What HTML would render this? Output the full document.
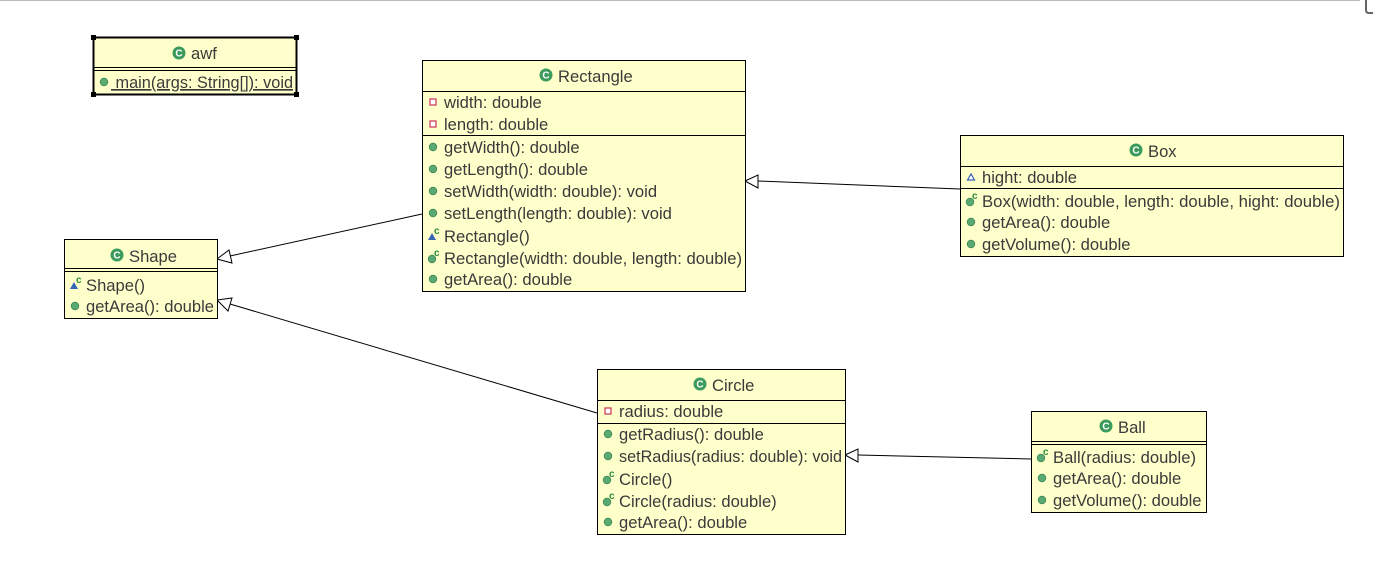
<!DOCTYPE html>
<html><head><meta charset="utf-8"><style>
html,body{margin:0;padding:0;background:#fff;}
svg{display:block;}
text{font-family:"Liberation Sans","DejaVu Sans",sans-serif;font-size:16.6px;fill:#3a3a3a;}
</style></head><body>
<svg width="1373" height="565" viewBox="0 0 1373 565" xmlns="http://www.w3.org/2000/svg">
<defs>
<g id="cls"><circle cx="0" cy="0" r="6.5" fill="#3c9a5c"/><text x="0" y="3.5" text-anchor="middle" style="font-size:10px;font-weight:bold;fill:#fff">C</text></g>
<g id="pub"><circle cx="0" cy="0" r="3.8" fill="#5aa872" stroke="#3f8a57" stroke-width="0.8"/></g>
<g id="priv"><rect x="-3" y="-3" width="6" height="6" fill="#fff" stroke="#d04060" stroke-width="1.3"/></g>
<g id="pkg"><path d="M-3.5 3 L0 -3 L3.5 3 Z" fill="#fff" stroke="#3060b0" stroke-width="1.2"/></g>
<g id="pkgc"><path d="M-5 4 L-1 -3 L3 4 Z" fill="#3566b5"/><text x="1" y="-2" style="font-size:10px;font-weight:bold;fill:#2b8a3e">c</text></g>
<g id="pubc"><circle cx="-1" cy="1" r="3.8" fill="#5aa872" stroke="#3f8a57" stroke-width="0.8"/><text x="1" y="-2" style="font-size:10px;font-weight:bold;fill:#2b8a3e">c</text></g>
</defs>
<line x1="0" y1="0.5" x2="1360" y2="0.5" stroke="#bbb"/>
<path d="M1366 0 L1366 10 Q1366 13 1369 13 L1373 13" fill="none" stroke="#666" stroke-width="2"/>

<g stroke="#000" stroke-width="1" fill="#fff">
<line x1="422" y1="214" x2="230" y2="256"/>
<path d="M217 259 L229 250 L232 263 Z"/>
<line x1="597" y1="413" x2="230" y2="304"/>
<path d="M217 300 L232 298 L228 311 Z"/>
<line x1="960" y1="189" x2="758" y2="181"/>
<path d="M745 181 L758 175 L758 188 Z"/>
<line x1="1031" y1="459" x2="858" y2="455"/>
<path d="M845 455 L858 449 L858 462 Z"/>
</g>

<rect x="93.5" y="37.5" width="203" height="57" fill="#ffffcc" stroke="#000" stroke-width="2"/>
<g fill="#000"><rect x="91" y="35" width="5" height="5"/><rect x="294" y="35" width="5" height="5"/><rect x="91" y="92" width="5" height="5"/><rect x="294" y="92" width="5" height="5"/></g>
<line x1="93" y1="67.5" x2="297" y2="67.5" stroke="#000"/>
<line x1="93" y1="70.5" x2="297" y2="70.5" stroke="#000"/>
<use href="#cls" x="179" y="53"/><text x="191" y="59">awf</text>
<use href="#pub" x="104" y="82"/><text x="111" y="88" text-decoration="underline" xml:space="preserve" textLength="182" lengthAdjust="spacingAndGlyphs"> main(args: String[]): void</text>

<rect x="422.5" y="60.5" width="323" height="231" fill="#ffffcc" stroke="#000"/>
<line x1="422" y1="91.5" x2="746" y2="91.5" stroke="#000"/>
<line x1="422" y1="135.5" x2="746" y2="135.5" stroke="#000"/>
<use href="#cls" x="546" y="75"/><text x="558" y="82">Rectangle</text>
<use href="#priv" x="433" y="102"/><text x="444" y="108">width: double</text>
<use href="#priv" x="433" y="124"/><text x="444" y="130">length: double</text>
<use href="#pub" x="433" y="147"/><text x="444" y="153">getWidth(): double</text>
<use href="#pub" x="433" y="169"/><text x="444" y="175">getLength(): double</text>
<use href="#pub" x="433" y="191"/><text x="444" y="197">setWidth(width: double): void</text>
<use href="#pub" x="433" y="213"/><text x="444" y="219">setLength(length: double): void</text>
<use href="#pkgc" x="433" y="236"/><text x="444" y="242">Rectangle()</text>
<use href="#pubc" x="433" y="258"/><text x="444" y="264" textLength="298" lengthAdjust="spacingAndGlyphs">Rectangle(width: double, length: double)</text>
<use href="#pub" x="433" y="279"/><text x="444" y="285">getArea(): double</text>

<rect x="960.5" y="135.5" width="383" height="121" fill="#ffffcc" stroke="#000"/>
<line x1="960" y1="166.5" x2="1344" y2="166.5" stroke="#000"/>
<line x1="960" y1="188.5" x2="1344" y2="188.5" stroke="#000"/>
<use href="#cls" x="1136" y="150"/><text x="1148" y="157">Box</text>
<use href="#pkg" x="971" y="177"/><text x="982" y="183">hight: double</text>
<use href="#pubc" x="971" y="201"/><text x="982" y="207" textLength="358" lengthAdjust="spacingAndGlyphs">Box(width: double, length: double, hight: double)</text>
<use href="#pub" x="971" y="222"/><text x="982" y="228">getArea(): double</text>
<use href="#pub" x="971" y="244"/><text x="982" y="250">getVolume(): double</text>

<rect x="64.5" y="239.5" width="153" height="79" fill="#ffffcc" stroke="#000"/>
<line x1="64" y1="268.5" x2="218" y2="268.5" stroke="#000"/>
<line x1="64" y1="271.5" x2="218" y2="271.5" stroke="#000"/>
<use href="#cls" x="117" y="255"/><text x="129" y="262">Shape</text>
<use href="#pkgc" x="75" y="285"/><text x="86" y="291">Shape()</text>
<use href="#pub" x="75" y="306"/><text x="86" y="312" textLength="128" lengthAdjust="spacingAndGlyphs">getArea(): double</text>

<rect x="597.5" y="369.5" width="248" height="165" fill="#ffffcc" stroke="#000"/>
<line x1="597" y1="400.5" x2="846" y2="400.5" stroke="#000"/>
<line x1="597" y1="423.5" x2="846" y2="423.5" stroke="#000"/>
<use href="#cls" x="700" y="384"/><text x="712" y="391">Circle</text>
<use href="#priv" x="608" y="411"/><text x="619" y="417">radius: double</text>
<use href="#pub" x="608" y="434"/><text x="619" y="440">getRadius(): double</text>
<use href="#pub" x="608" y="456"/><text x="619" y="462" textLength="223" lengthAdjust="spacingAndGlyphs">setRadius(radius: double): void</text>
<use href="#pubc" x="608" y="479"/><text x="619" y="485">Circle()</text>
<use href="#pubc" x="608" y="501"/><text x="619" y="507">Circle(radius: double)</text>
<use href="#pub" x="608" y="522"/><text x="619" y="528">getArea(): double</text>

<rect x="1031.5" y="411.5" width="175" height="101" fill="#ffffcc" stroke="#000"/>
<line x1="1031" y1="441.5" x2="1207" y2="441.5" stroke="#000"/>
<line x1="1031" y1="444.5" x2="1207" y2="444.5" stroke="#000"/>
<use href="#cls" x="1106" y="426"/><text x="1118" y="433">Ball</text>
<use href="#pubc" x="1042" y="457"/><text x="1053" y="463">Ball(radius: double)</text>
<use href="#pub" x="1042" y="478"/><text x="1053" y="484">getArea(): double</text>
<use href="#pub" x="1042" y="500"/><text x="1053" y="506">getVolume(): double</text>
</svg>
</body></html>
